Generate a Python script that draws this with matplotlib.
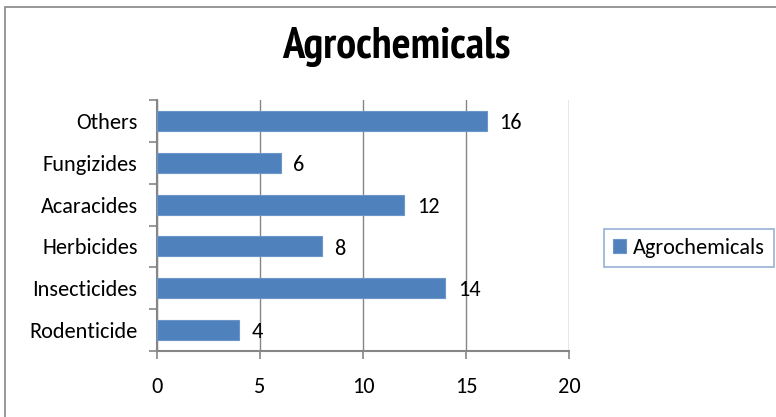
import matplotlib
matplotlib.use("Agg")
import matplotlib.pyplot as plt
from matplotlib.patches import Rectangle
from matplotlib import font_manager

categories = ["Rodenticide", "Insecticides", "Herbicides", "Acaracides", "Fungizides", "Others"]
values = [4, 14, 8, 12, 6, 16]
xticks = [0, 5, 10, 15, 20]
series_name = "Agrochemicals"

fonts = font_manager.fontManager.ttflist
names = {f.name for f in fonts}
bold_names = {f.name for f in fonts if (isinstance(f.weight, int) and f.weight >= 600) or str(f.weight) in ("bold", "heavy", "black", "semibold", "demibold", "extra bold")}
def pick(prefs, pool):
    for p in prefs:
        if p in pool:
            return p
    return "Liberation Sans"
body_font = pick(["Carlito", "Liberation Sans"], names)
title_font = pick(["Liberation Sans Narrow", "Arimo Narrow", "Archivo Narrow", "PT Sans Narrow",
                   "Roboto Condensed", "Open Sans Condensed", "Asap Condensed", "Encode Sans Condensed",
                   "IBM Plex Sans Condensed", "Fira Sans Condensed", "Barlow Condensed", "Carlito"], bold_names)
plt.rcParams['font.family'] = [body_font, 'DejaVu Sans']

color = "#4F81BD"
gray = "#868686"

fig = plt.figure(figsize=(7.76, 4.17), dpi=100)
fig.patches.append(Rectangle((5/776, -0.05), 1.1, 1.05 - 7/417, transform=fig.transFigure,
                             fill=False, edgecolor=gray, linewidth=1.2))

ax = fig.add_axes([157/776, 1 - 351/417, 412/776, 251/417])
y = list(range(len(categories)))
ax.barh(y, values, height=0.48, color=color, edgecolor="#6C95C9", linewidth=0.8,
        label=series_name, zorder=3)
ax.set_xlim(0, 20)
ax.set_ylim(-0.5, len(categories) - 0.5)
ax.set_xticks(xticks)
ax.set_xticklabels([str(t) for t in xticks], fontsize=16)
ax.set_yticks(y)
ax.set_yticklabels(categories, fontsize=16)
ax.set_yticks([i - 0.5 for i in range(len(categories) + 1)], minor=True)
ax.tick_params(axis='y', which='major', length=0, pad=14)
ax.tick_params(axis='y', which='minor', length=6, width=1.2, color=gray, direction='out')
ax.tick_params(axis='x', length=6, width=1.2, color=gray, direction='out', pad=13)
for s in ['top', 'right']:
    ax.spines[s].set_visible(False)
for s in ['left', 'bottom']:
    ax.spines[s].set_color(gray)
    ax.spines[s].set_linewidth(1.5)
ax.grid(axis='x', color=gray, linewidth=1.0, zorder=0)
ax.set_axisbelow(True)

for yi, v in zip(y, values):
    ax.annotate(str(v), (v, yi), xytext=(9, -1.5), textcoords='offset points',
                va='center', ha='left', fontsize=16)

fig.text(396/776, 1 - 47/417, "Agrochemicals", ha='center', va='center',
         fontsize=32, fontweight='bold', family=[title_font, 'DejaVu Sans'])

leg = ax.legend(loc='center left', bbox_to_anchor=(604/776, 1 - 248/417),
                bbox_transform=fig.transFigure, fontsize=16, frameon=True,
                fancybox=False, handlelength=0.6, handleheight=0.6,
                handletextpad=0.3, borderpad=0.4, borderaxespad=0)
leg.get_frame().set_edgecolor("#7F9DCC")
leg.get_frame().set_linewidth(1.2)

fig.savefig("out.png", dpi=100)
